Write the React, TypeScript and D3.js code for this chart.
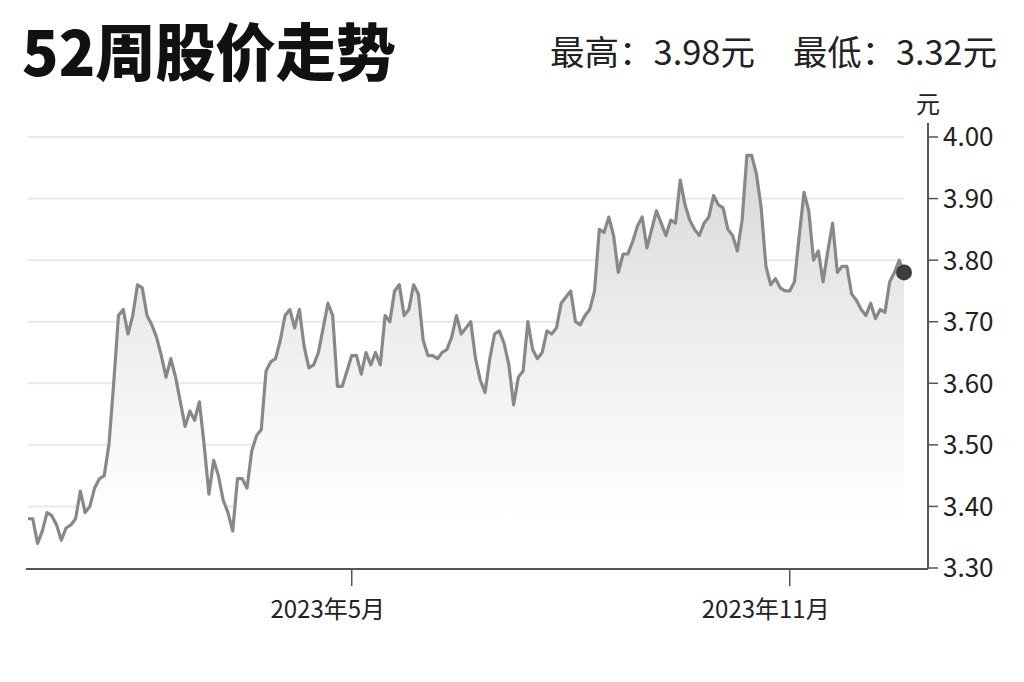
import React from "react";
import * as d3 from "d3";

// 52-week closing prices, one reading every two calendar days from 2022-12-16
const priceValues: number[] = [
  3.38, 3.38, 3.34, 3.36, 3.39, 3.385, 3.37, 3.345, 3.365, 3.37,
  3.38, 3.425, 3.39, 3.4, 3.43, 3.445, 3.45, 3.5, 3.6, 3.71,
  3.72, 3.68, 3.71, 3.76, 3.755, 3.71, 3.695, 3.675, 3.645, 3.61,
  3.64, 3.61, 3.57, 3.53, 3.555, 3.54, 3.57, 3.5, 3.42, 3.475,
  3.45, 3.41, 3.39, 3.36, 3.445, 3.445, 3.43, 3.49, 3.515, 3.525,
  3.62, 3.635, 3.64, 3.67, 3.71, 3.72, 3.69, 3.72, 3.66, 3.625,
  3.63, 3.65, 3.69, 3.73, 3.71, 3.595, 3.595, 3.62, 3.645, 3.645,
  3.615, 3.65, 3.63, 3.65, 3.63, 3.71, 3.7, 3.75, 3.76, 3.71,
  3.72, 3.76, 3.745, 3.67, 3.645, 3.645, 3.64, 3.65, 3.655, 3.675,
  3.71, 3.68, 3.69, 3.7, 3.64, 3.605, 3.585, 3.64, 3.68, 3.685,
  3.665, 3.63, 3.565, 3.61, 3.62, 3.7, 3.655, 3.64, 3.65, 3.685,
  3.68, 3.69, 3.73, 3.74, 3.75, 3.7, 3.695, 3.71, 3.72, 3.75,
  3.85, 3.845, 3.87, 3.84, 3.78, 3.81, 3.81, 3.83, 3.855, 3.87,
  3.82, 3.85, 3.88, 3.86, 3.84, 3.865, 3.86, 3.93, 3.89, 3.865,
  3.85, 3.84, 3.86, 3.87, 3.905, 3.89, 3.885, 3.85, 3.84, 3.815,
  3.865, 3.97, 3.97, 3.94, 3.885, 3.79, 3.76, 3.77, 3.755, 3.75,
  3.75, 3.765, 3.84, 3.91, 3.88, 3.8, 3.815, 3.765, 3.815, 3.86,
  3.78, 3.79, 3.79, 3.745, 3.735, 3.72, 3.71, 3.73, 3.705, 3.72,
  3.715, 3.765, 3.78, 3.8, 3.78,
];

const yTickValues = [3.3, 3.4, 3.5, 3.6, 3.7, 3.8, 3.9, 4.0];
const xTickDates = ["2023-05-01", "2023-11-01"];
const xTickLabels = ["2023年5月", "2023年11月"];

const titleText = "52周股价走势";
const highText = "最高：3.98元";
const lowText = "最低：3.32元";
const unitText = "元";

const W = 1024;
const H = 682;
const FONT = "'Noto Sans CJK SC', 'Noto Sans', sans-serif";

export default function App() {
  const startDate = new Date(2022, 11, 16);
  const dates = priceValues.map((_, i) => d3.timeDay.offset(startDate, i * 2));
  const data = priceValues.map((v, i) => ({ date: dates[i], value: v }));

  const plotLeft = 28;
  const plotRight = 904;
  const axisX = 928;

  const x = d3
    .scaleTime()
    .domain([dates[0], dates[dates.length - 1]])
    .range([plotLeft, plotRight]);
  const y = d3.scaleLinear().domain([3.3, 4.0]).range([568, 137]);

  const line = d3
    .line<{ date: Date; value: number }>()
    .x((d) => x(d.date))
    .y((d) => y(d.value));
  const area = d3
    .area<{ date: Date; value: number }>()
    .x((d) => x(d.date))
    .y0(y(3.3))
    .y1((d) => y(d.value));

  const last = data[data.length - 1];
  const parse = d3.timeParse("%Y-%m-%d");

  return (
    <svg
      width={W}
      height={H}
      style={{ position: "fixed", left: 0, top: 0, background: "#fff" }}
      fontFamily={FONT}
    >
      <defs>
        <linearGradient id="fillGrad" gradientUnits="userSpaceOnUse" x1="0" y1="140" x2="0" y2="520">
          <stop offset="0" stopColor="#d6d6d6" />
          <stop offset="0.5" stopColor="#ededed" />
          <stop offset="1" stopColor="#ffffff" />
        </linearGradient>
      </defs>
      <rect width={W} height={H} fill="#fff" />

      {/* header */}
      <text
        x={22}
        y={76}
        fontSize={62}
        fontWeight={900}
        fill="#111"
        textLength={374}
        lengthAdjust="spacingAndGlyphs"
      >
        {titleText}
      </text>
      <text x={550} y={65} fontSize={34} fill="#222" textLength={205} lengthAdjust="spacingAndGlyphs">
        {highText}
      </text>
      <text x={793} y={65} fontSize={34} fill="#222" textLength={204} lengthAdjust="spacingAndGlyphs">
        {lowText}
      </text>

      {/* grid */}
      {yTickValues.slice(1).map((t) => (
        <line key={t} x1={plotLeft} x2={plotRight} y1={y(t)} y2={y(t)} stroke="#e9e9e9" strokeWidth={2} />
      ))}

      {/* area + line */}
      <path d={area(data) || ""} fill="url(#fillGrad)" />
      <path d={line(data) || ""} fill="none" stroke="#888" strokeWidth={3.2} strokeLinejoin="round" />
      <circle cx={x(last.date)} cy={y(last.value)} r={8} fill="#3d3d3d" />

      {/* x axis */}
      <line x1={26} x2={axisX} y1={y(3.3) + 1} y2={y(3.3) + 1} stroke="#555" strokeWidth={2} />
      {xTickDates.map((ds, i) => {
        const tx = x(parse(ds) as Date);
        return (
          <g key={ds}>
            <line x1={tx} x2={tx} y1={y(3.3) + 1} y2={y(3.3) + 18} stroke="#555" strokeWidth={1.5} />
            <text x={tx - 24} y={618} fontSize={24} fill="#222" textAnchor="middle">
              {xTickLabels[i]}
            </text>
          </g>
        );
      })}

      {/* y axis */}
      <line x1={axisX} x2={axisX} y1={123} y2={y(3.3) + 1} stroke="#555" strokeWidth={2} />
      {yTickValues.map((t) => (
        <g key={t}>
          <line x1={axisX} x2={axisX + 10} y1={y(t)} y2={y(t)} stroke="#555" strokeWidth={1.5} />
          <text x={943} y={y(t)} dy="0.36em" fontSize={26} fill="#222">
            {t.toFixed(2)}
          </text>
        </g>
      ))}
      <text x={axisX} y={113} fontSize={24} fill="#222" textAnchor="middle">
        {unitText}
      </text>
    </svg>
  );
}
